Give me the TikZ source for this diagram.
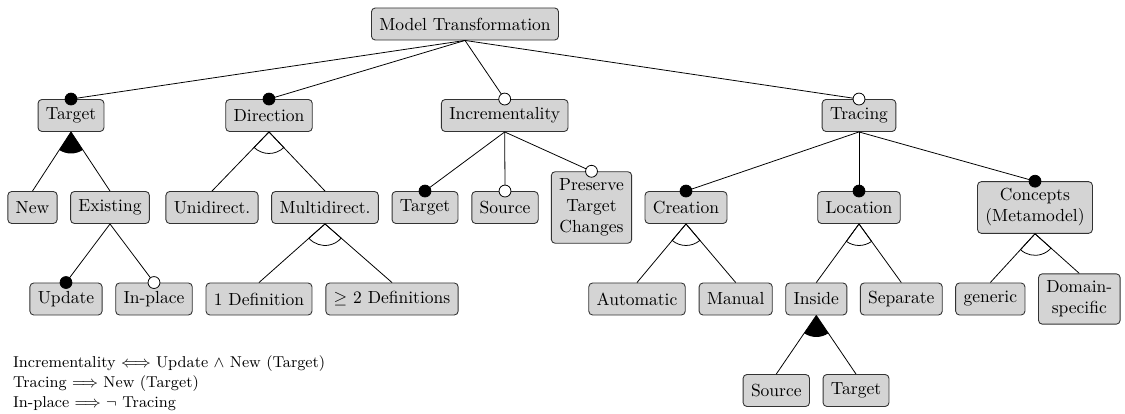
\documentclass[tikz,border=0pt]{standalone}
\usepackage{amsmath}
\usetikzlibrary{calc}

\tikzset{
  feat/.style={draw=black!80, fill=black!17, rounded corners=2.2pt, line width=0.5pt,
    inner xsep=4.5pt, inner ysep=4pt, minimum height=18.3pt, align=center},
  link/.style={line width=0.45pt},
  mandatory/.style={draw, fill=black, line width=0.45pt},
  optional/.style={draw, fill=white, line width=0.45pt},
  orgroup/.style={fill=black},
  altgroup/.style={draw, line width=0.45pt},
  constraint/.style={anchor=base west, inner sep=0pt, font=\fontsize{9}{11}\selectfont},
}

% group arc below a parent feature, spanning the edges to two children
\newcommand\fmgroup[4]{%
  \path[#4] let \p1=($(#2.north)-(#1.south)$), \p2=($(#3.north)-(#1.south)$),
    \n1={atan2(\y1,\x1)}, \n2={atan2(\y2,\x2)} in
    (#1.south) -- ($(#1.south)+(\n1:12.3pt)$)
    arc[start angle=\n1, end angle=\n2, radius=12.3pt] -- cycle;
}

\begin{document}
\begin{tikzpicture}[x=0.5714pt, y=-0.5714pt]
\useasboundingbox (0,0) rectangle (1125,414);

% root
\node[feat] (mt) at (465,24) {Model Transformation};

% first level
\node[feat] (target) at (71,115.5) {Target};
\node[feat] (dir) at (269,115.5) {Direction};
\node[feat] (incr) at (504.7,115.5) {Incrementality};
\node[feat] (trac) at (859,115.5) {Tracing};

% second level
\node[feat] (new) at (32.5,207.5) {New};
\node[feat] (exist) at (110,207.5) {Existing};
\node[feat] (uni) at (212,207.5) {Unidirect.};
\node[feat] (multi) at (325,207.5) {Multidirect.};
\node[feat] (itarget) at (425,207.5) {Target};
\node[feat] (isource) at (505,207.5) {Source};
\node[feat] (preserve) at (591.5,207.5) {Preserve\\Target\\Changes};
\node[feat] (creation) at (686,207.5) {Creation};
\node[feat] (location) at (859,207.5) {Location};
\node[feat] (concepts) at (1035,207.5) {Concepts\\(Metamodel)};

% third level
\node[feat] (update) at (66,299) {Update};
\node[feat] (inplace) at (154,299) {In-place};
\node[feat] (onedef) at (259,299) {1 Definition};
\node[feat] (twodef) at (392,299) {$\geq$ 2 Definitions};
\node[feat] (auto) at (637,299) {Automatic};
\node[feat] (manual) at (735.7,299) {Manual};
\node[feat] (inside) at (816.3,299) {Inside};
\node[feat] (separate) at (901.3,299) {Separate};
\node[feat] (generic) at (990.3,299) {generic};
\node[feat] (domain) at (1079.3,299) {Domain-\\specific};

% fourth level
\node[feat] (lsource) at (776.3,390.5) {Source};
\node[feat] (ltarget) at (856,390.5) {Target};

% edges
\foreach \p/\c in {mt/target, mt/dir, mt/incr, mt/trac,
    target/new, target/exist, dir/uni, dir/multi,
    incr/itarget, incr/isource, incr/preserve,
    trac/creation, trac/location, trac/concepts,
    exist/update, exist/inplace, multi/onedef, multi/twodef,
    creation/auto, creation/manual, location/inside, location/separate,
    concepts/generic, concepts/domain, inside/lsource, inside/ltarget}
  \draw[link] (\p.south) -- (\c.north);

% group arcs
\fmgroup{target}{new}{exist}{orgroup}
\fmgroup{inside}{lsource}{ltarget}{orgroup}
\fmgroup{dir}{uni}{multi}{altgroup}
\fmgroup{multi}{onedef}{twodef}{altgroup}
\fmgroup{creation}{auto}{manual}{altgroup}
\fmgroup{location}{inside}{separate}{altgroup}
\fmgroup{concepts}{generic}{domain}{altgroup}

% mandatory and optional markers
\foreach \c in {target, dir, itarget, creation, location, concepts, update}
  \path[mandatory] (\c.north) circle[radius=3.4pt];
\foreach \c in {incr, trac, isource, preserve, inplace}
  \path[optional] (\c.north) circle[radius=3.4pt];

% cross-tree constraints
\node[constraint] (c1) at (12.7,368) {Incrementality $\Longleftrightarrow$ Update $\land$ New (Target)};
\node[constraint] (c2) at (12.7,388) {Tracing $\Longrightarrow$ New (Target)};
\node[constraint] (c3) at (12.7,408) {In-place $\Longrightarrow$ $\neg$ Tracing};
\end{tikzpicture}
\end{document}
